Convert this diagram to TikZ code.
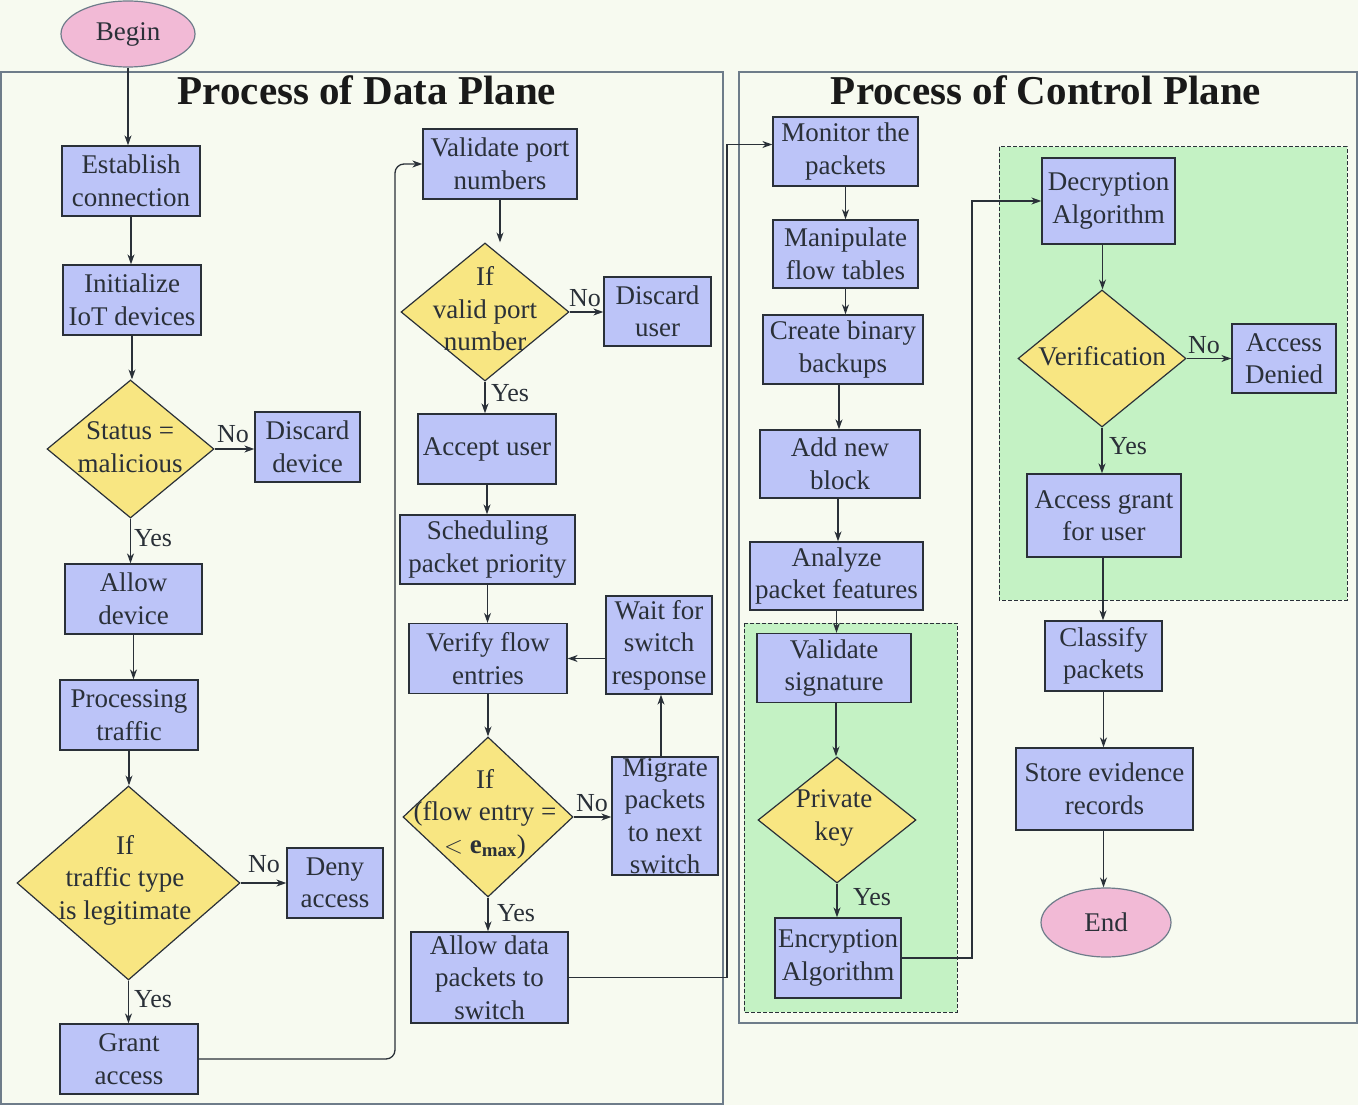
\documentclass[tikz,border=0pt]{standalone}
\usepackage{fontspec}
\setmainfont{Liberation Serif}
\usetikzlibrary{shapes.geometric,arrows.meta,calc}
\definecolor{bgc}{HTML}{F7FAF0}
\definecolor{boxc}{HTML}{BCC4F8}
\definecolor{pinkc}{HTML}{F2BAD6}
\definecolor{yelc}{HTML}{F8E682}
\definecolor{grnc}{HTML}{C4F2C4}
\definecolor{framec}{HTML}{6E7C8A}
\definecolor{linec}{HTML}{2A3038}
\begin{document}
\begin{tikzpicture}[x=1pt,y=-1pt,
  every node/.style={font=\fontsize{27}{32.5}\selectfont, text=linec},
  box/.style={draw=linec, line width=1.3pt, fill=boxc, inner sep=0pt, align=center},
  bx/.style 2 args={box, minimum width=#1, minimum height=#2},
  ell/.style={ellipse, draw=framec, line width=1.2pt, fill=pinkc, inner sep=0pt},
  dia/.style={diamond, draw=linec, line width=1.2pt, fill=yelc, inner sep=0pt, aspect=1},
  dtx/.style={align=center, inner sep=0pt},
  lbl/.style={inner sep=0pt, font=\fontsize{26}{30}\selectfont},
  ttl/.style={inner sep=0pt, font=\fontsize{41}{45}\selectfont\bfseries, text=black!90},
  arr/.style={draw=linec, line width=1.3pt, -{Stealth[length=10pt,width=7pt]}},
  frame/.style={draw=framec, line width=1.5pt, fill=bgc},
  grn/.style={draw=linec, line width=1pt, dashed, dash pattern=on 4pt off 2pt, fill=grnc}
]
% background and frames
\fill[bgc] (0,0) rectangle (1358,1105);
\useasboundingbox (0,0) rectangle (1358,1105);
\draw[frame] (1,72) rectangle (723,1104);
\draw[frame] (739,72) rectangle (1357,1023);
\draw[grn] (744,623) rectangle (957,1012);
\draw[grn] (999,147) rectangle (1347,600);

% titles
\node[ttl] (t1) at (367,90) {Process of Data Plane};
\node[ttl] (t2) at (1046,90) {Process of Control Plane};

% data plane column 1
\node[ell, minimum width=134, minimum height=66] (begin) at (128,34) {Begin};
\node[bx={138}{70}] (est) at (131,181) {Establish\\connection};
\node[bx={138}{70}] (init) at (132,300) {Initialize\\IoT devices};
\node[dia, minimum width=167, minimum height=138] (d1) at (130.5,449) {};
\node[dtx] (d1t) at (130,447) {Status =\\malicious};
\node[bx={105}{70}] (disdev) at (307.5,447) {Discard\\device};
\node[bx={137}{70}] (allow) at (133.5,599) {Allow\\device};
\node[bx={138}{70}] (proc) at (129,715) {Processing\\traffic};
\node[dia, minimum width=223, minimum height=194] (d2) at (128.5,883) {};
\node[dtx] (d2t) at (125,880) {If\\traffic type\\is legitimate};
\node[bx={96}{70}] (deny) at (335,883) {Deny\\access};
\node[bx={138}{70}] (grant) at (129,1059) {Grant\\access};

% data plane column 2
\node[bx={154}{70}] (vport) at (500,164) {Validate port\\numbers};
\node[dia, minimum width=168, minimum height=138] (d3) at (485,312) {};
\node[dtx] (d3t) at (485,309) {If\\valid port\\number};
\node[bx={107}{69}] (disuser) at (657.5,311.5) {Discard\\user};
\node[bx={138}{70}] (accept) at (487,449) {Accept user};
\node[bx={175}{69}] (sched) at (487.5,549.5) {Scheduling\\packet priority};
\node[bx={158}{70}] (verify) at (488,658.5) {Verify flow\\entries};
\node[bx={106}{98}] (wait) at (659,645) {Wait for\\switch\\response};
\node[bx={106}{118}] (migrate) at (665,816) {Migrate\\packets\\to next\\switch};
\node[dia, minimum width=170, minimum height=160] (d4) at (488,817) {};
\node[dtx] (d4t) at (485,814) {If\\(flow entry =\\$<$ \textbf{e}\textsubscript{\textbf{max}})};
\node[bx={157}{91}] (adata) at (489.5,977.5) {Allow data\\packets to\\switch};

% control plane
\node[bx={145}{69}] (mon) at (845.5,151.5) {Monitor the\\packets};
\node[bx={145}{68}] (manip) at (845.5,254) {Manipulate\\flow tables};
\node[bx={160}{69}] (binary) at (843,349.5) {Create binary\\backups};
\node[bx={160}{68}] (block) at (840,464) {Add new\\block};
\node[bx={173}{68}] (analyze) at (836.5,576) {Analyze\\packet features};
\node[bx={154}{69}] (vsig) at (834,668) {Validate\\signature};
\node[dia, minimum width=158, minimum height=126] (d5) at (837,820) {};
\node[dtx] (d5t) at (834,818) {Private\\key};
\node[bx={126}{80}] (enc) at (838,958) {Encryption\\Algorithm};
\node[bx={133}{86}] (dec) at (1108.5,201) {Decryption\\Algorithm};
\node[dia, minimum width=168, minimum height=137] (d6) at (1102,358.5) {};
\node[dtx] (d6t) at (1102,356) {Verification};
\node[bx={104}{69}] (denied) at (1284,358.5) {Access\\Denied};
\node[bx={154}{83}] (agrant) at (1104,515.5) {Access grant\\for user};
\node[bx={117}{70}] (classify) at (1103.5,656) {Classify\\packets};
\node[bx={177}{82}] (store) at (1104.5,789) {Store evidence\\records};
\node[ell, minimum width=130, minimum height=69] (end) at (1106,922.5) {End};

% connectors column 1
\draw[arr] (begin.south) -- (begin.south |- est.north);
\draw[arr] (est.south) -- (est.south |- init.north);
\draw[arr] (init.south) -- (init.south |- d1.north);
\draw[arr] (d1.east) -- (d1.east -| disdev.west);
\draw[arr] (d1.south) -- (d1.south |- allow.north);
\draw[arr] (allow.south) -- (allow.south |- proc.north);
\draw[arr] (proc.south) -- (proc.south |- d2.north);
\draw[arr] (d2.east) -- (d2.east -| deny.west);
\draw[arr] (d2.south) -- (d2.south |- grant.north);
\coordinate (ca) at (395,600);
\draw[arr, rounded corners=9pt] (grant.east) -| (ca) |- (vport.west);

% connectors column 2
\draw[arr] (vport.south) -- (vport.south |- d3.north);
\draw[arr] (d3.east) -- (d3.east -| disuser.west);
\draw[arr] (d3.south) -- (d3.south |- accept.north);
\draw[arr] (accept.south) -- (accept.south |- sched.north);
\draw[arr] (sched.south) -- (sched.south |- verify.north);
\draw[arr] (verify.south) -- (verify.south |- d4.north);
\draw[arr] (d4.east) -- (d4.east -| migrate.west);
\coordinate (mg) at ($(migrate.north)+(-4,0)$);
\draw[arr] (mg) -- (mg |- wait.south);
\draw[arr] (wait.west |- verify.east) -- (verify.east);
\draw[arr] (d4.south) -- (d4.south |- adata.north);
\coordinate (cb) at (727,560);
\coordinate (monin) at ($(mon.west)+(0,-7)$);
\draw[arr] (adata.east) -| (cb) |- (monin);

% connectors control plane
\draw[arr] (mon.south) -- (mon.south |- manip.north);
\draw[arr] (manip.south) -- (manip.south |- binary.north);
\coordinate (p1) at ($(binary.south)+(-4,0)$);
\draw[arr] (p1) -- (p1 |- block.north);
\coordinate (p2) at ($(block.south)+(-2,0)$);
\draw[arr] (p2) -- (p2 |- analyze.north);
\draw[arr] (analyze.south) -- (analyze.south |- vsig.north);
\coordinate (p3) at ($(vsig.south)+(2,0)$);
\draw[arr] (p3) -- (p3 |- d5.north);
\draw[arr] (d5.south) -- (d5.south |- enc.north);
\coordinate (cc) at (972,500);
\draw[arr] (enc.east) -| (cc) |- (dec.west);
\coordinate (p4) at ($(dec.south)+(-6,0)$);
\draw[arr] (p4) -- (p4 |- d6.north);
\draw[arr] (d6.east) -- (d6.east -| denied.west);
\draw[arr] (d6.south) -- (d6.south |- agrant.north);
\coordinate (p5) at ($(agrant.south)+(-1,0)$);
\draw[arr] (p5) -- (p5 |- classify.north);
\draw[arr] (classify.south) -- (classify.south |- store.north);
\coordinate (p6) at ($(store.south)+(-1,0)$);
\draw[arr] (p6) -- (p6 |- end.north);

% edge labels
\node[lbl] (l1) at (233,434) {No};
\node[lbl] (l2) at (153,538) {Yes};
\node[lbl] (l3) at (264,864) {No};
\node[lbl] (l4) at (153,999) {Yes};
\node[lbl] (l5) at (585,298) {No};
\node[lbl] (l6) at (510,393) {Yes};
\node[lbl] (l7) at (592,803) {No};
\node[lbl] (l8) at (516,913) {Yes};
\node[lbl] (l9) at (1204,345) {No};
\node[lbl] (l10) at (1128,446) {Yes};
\node[lbl] (l11) at (872,897) {Yes};
\end{tikzpicture}
\end{document}
